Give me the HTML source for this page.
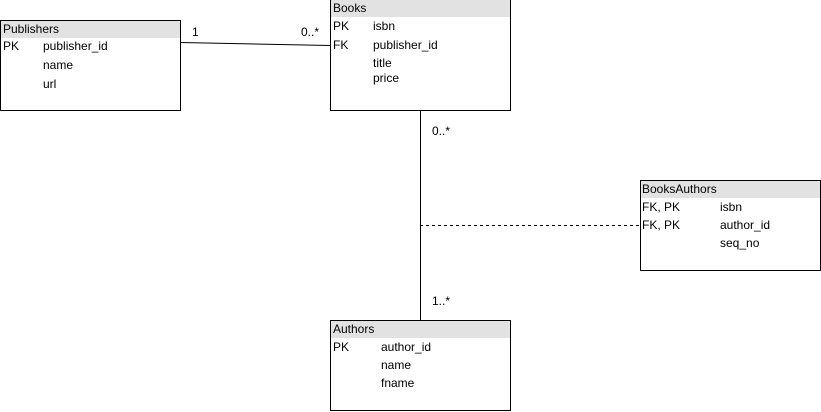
<!DOCTYPE html>
<html><head><style>body{margin:0;background:#fff}svg{display:block}text{font-family:"Liberation Sans",sans-serif;font-size:12px;fill:#000;dominant-baseline:central}</style></head>
<body>
<svg width="821" height="412" xmlns="http://www.w3.org/2000/svg">
<rect x="0" y="0" width="821" height="412" fill="#fff"/>
<!-- connectors -->
<path d="M180.5 42.5 L330.5 45.5" stroke="#000" fill="none"/>
<path d="M420.5 110 V320" stroke="#000" fill="none"/>
<path d="M420 225.5 H640" stroke="#000" stroke-dasharray="3,3" fill="none"/>
<text x="192" y="32">1</text>
<text x="301" y="32">0..*</text>
<text x="432" y="131">0..*</text>
<text x="432" y="301">1..*</text>
<!-- Publishers -->
<rect x="0.5" y="20.5" width="180" height="90" fill="#fff" stroke="#000"/>
<rect x="1" y="21" width="179" height="17" fill="#e2e2e2"/>
<text x="3" y="29">Publishers</text>
<text x="3" y="46">PK</text><text x="43" y="46">publisher_id</text>
<text x="43" y="65">name</text><text x="43" y="84">url</text>
<!-- Books -->
<rect x="330.5" y="-0.5" width="180" height="111" fill="#fff" stroke="#000"/>
<rect x="331" y="0" width="179" height="17" fill="#e2e2e2"/>
<text x="333" y="8">Books</text>
<text x="333" y="26">PK</text><text x="373" y="26">isbn</text>
<text x="333" y="45">FK</text><text x="373" y="45">publisher_id</text>
<text x="373" y="63">title</text><text x="373" y="78">price</text>
<!-- BooksAuthors -->
<rect x="640.5" y="180.5" width="180" height="90" fill="#fff" stroke="#000"/>
<rect x="641" y="181" width="179" height="17" fill="#e2e2e2"/>
<text x="642" y="189">BooksAuthors</text>
<text x="642" y="207">FK, PK</text><text x="720" y="207">isbn</text>
<text x="642" y="225">FK, PK</text><text x="720" y="225">author_id</text>
<text x="720" y="243">seq_no</text>
<!-- Authors -->
<rect x="330.5" y="320.5" width="180" height="90" fill="#fff" stroke="#000"/>
<rect x="331" y="321" width="179" height="17" fill="#e2e2e2"/>
<text x="333" y="329">Authors</text>
<text x="333" y="347">PK</text><text x="381" y="347">author_id</text>
<text x="381" y="365">name</text><text x="381" y="383">fname</text>
</svg>
</body></html>
